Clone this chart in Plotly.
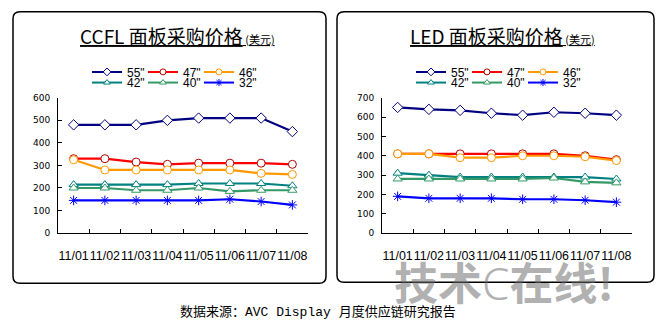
import plotly.graph_objects as go

W, H = 668, 327

# ---- data -------------------------------------------------------------
months = ["11/01", "11/02", "11/03", "11/04", "11/05", "11/06", "11/07", "11/08"]
sizes = ['55"', '47"', '46"', '42"', '40"', '32"']

ccfl_55 = [480, 480, 480, 500, 510, 510, 510, 450]
ccfl_47 = [330, 330, 315, 305, 310, 310, 310, 305]
ccfl_46 = [325, 280, 280, 280, 280, 280, 265, 260]
ccfl_42 = [215, 215, 215, 215, 220, 220, 220, 210]
ccfl_40 = [200, 200, 190, 190, 200, 185, 190, 190]
ccfl_32 = [145, 145, 145, 145, 145, 150, 140, 125]

led_55 = [650, 640, 635, 620, 610, 625, 620, 610]
led_47 = [410, 410, 410, 410, 410, 410, 400, 380]
led_46 = [410, 410, 390, 390, 400, 400, 395, 375]
led_42 = [310, 300, 290, 290, 290, 290, 290, 280]
led_40 = [280, 280, 280, 280, 280, 285, 265, 260]
led_32 = [190, 180, 180, 180, 175, 175, 170, 160]

ccfl_series = [ccfl_55, ccfl_47, ccfl_46, ccfl_42, ccfl_40, ccfl_32]
led_series = [led_55, led_47, led_46, led_42, led_40, led_32]

# ---- styles -----------------------------------------------------------
line_colors = ["#000080", "#FF0000", "#FF9900", "#008080", "#339966", "#0000FF"]
edge_colors = ["#000080", "#B00000", "#FF9900", "#008080", "#339966", "#0000FF"]
symbols = ["diamond", "circle", "circle", "triangle-up", "triangle-up", "asterisk-open"]


def px(x):
    return x / W


def py(y):
    return 1 - y / H


def marker_style(i, size):
    open_sym = symbols[i].endswith("-open")
    return dict(symbol=symbols[i], size=size,
                color=edge_colors[i] if open_sym else "white",
                line=dict(color=edge_colors[i], width=1))


fig = go.Figure()

panels = [
    ("x", "y", ccfl_series, ("legend", "legend2")),
    ("x2", "y2", led_series, ("legend3", "legend4")),
]
for xa, ya, series, legs in panels:
    for i, vals in enumerate(series):
        fig.add_trace(go.Scatter(
            x=months, y=vals, xaxis=xa, yaxis=ya,
            name=sizes[i], showlegend=False,
            mode="lines+markers",
            line=dict(color=line_colors[i], width=2.2),
            marker=marker_style(i, 8),
            hoverinfo="x+y+name",
        ))
    # legend keys (smaller symbols than the plotted markers), three per row
    for i in range(len(series)):
        fig.add_trace(go.Scatter(
            x=[None], y=[None], xaxis=xa, yaxis=ya,
            name=sizes[i], legend=legs[0] if i < 3 else legs[1],
            legendwidth=24 if i % 3 == 2 else 11,
            mode="lines+markers",
            line=dict(color=line_colors[i], width=2),
            marker=marker_style(i, 6),
            hoverinfo="skip",
        ))

axis_font = dict(family="DejaVu Sans", size=9, color="black")
cat_font = dict(family="Liberation Sans, Arial", size=12.4, color="black")

y_dom = [py(235.3), py(95.7)]

common_x = dict(type="category", range=[-0.5, 7.5], showline=True, linecolor="black",
                linewidth=1, ticks="inside", ticklen=4, tickcolor="black",
                tickson="boundaries", tickangle=0, tickfont=cat_font,
                showgrid=False, zeroline=False, ticklabelstandoff=11)
common_y = dict(showline=True, linecolor="black", linewidth=1, ticks="inside",
                ticklen=4, tickcolor="black", dtick=100, tickfont=axis_font,
                showgrid=False, zeroline=False, ticklabelstandoff=5)

fig.update_layout(
    width=W, height=H,
    margin=dict(l=0, r=0, t=0, b=0),
    paper_bgcolor="white", plot_bgcolor="white",
    showlegend=True,
    xaxis=dict(domain=[px(58), px(308)], anchor="y", **common_x),
    yaxis=dict(domain=y_dom, anchor="x", range=[0, 600], **common_y),
    xaxis2=dict(domain=[px(382), px(632)], anchor="y2", **common_x),
    yaxis2=dict(domain=y_dom, anchor="x2", range=[0, 700], **common_y),
)

leg_common = dict(orientation="h", xanchor="left", yanchor="middle",
                  bgcolor="rgba(0,0,0,0)", borderwidth=0,
                  font=dict(family="Liberation Sans, Arial", size=12, color="black"))
fig.update_layout(
    legend=dict(x=px(87), y=py(69), **leg_common),
    legend2=dict(x=px(87), y=py(80), **leg_common),
    legend3=dict(x=px(411), y=py(69), **leg_common),
    legend4=dict(x=px(411), y=py(80), **leg_common),
)


# rounded panel frames
def rounded_box(x0, y0, x1, y1, r):
    pts = [
        f"M {px(x0 + r)},{py(y0)}",
        f"L {px(x1 - r)},{py(y0)}",
        f"Q {px(x1)},{py(y0)} {px(x1)},{py(y0 + r)}",
        f"L {px(x1)},{py(y1 - r)}",
        f"Q {px(x1)},{py(y1)} {px(x1 - r)},{py(y1)}",
        f"L {px(x0 + r)},{py(y1)}",
        f"Q {px(x0)},{py(y1)} {px(x0)},{py(y1 - r)}",
        f"L {px(x0)},{py(y0 + r)}",
        f"Q {px(x0)},{py(y0)} {px(x0 + r)},{py(y0)} Z",
    ]
    return dict(type="path", path=" ".join(pts), xref="paper", yref="paper",
                line=dict(color="black", width=1.5), layer="below")


fig.add_shape(rounded_box(13, 7, 326, 287, 7))
fig.add_shape(rounded_box(337, 7, 654, 286, 7))

title_font = dict(family="Noto Sans CJK SC", size=19, color="black")
for label, cx in [("CCFL 面板采购价格", 177.5), ("LED 面板采购价格", 502)]:
    fig.add_annotation(
        text=f"<u>{label}<span style='font-size:11px'> (美元)</span></u>",
        x=px(cx), y=py(31), xref="paper", yref="paper",
        xanchor="center", yanchor="middle", showarrow=False, font=title_font)

# watermark
fig.add_annotation(
    text="<b>技术</b><span style='font-family:Noto Sans;font-weight:300'>C</span><b>在线!</b>",
    x=px(392), y=py(285), xref="paper", yref="paper",
    xanchor="left", yanchor="middle", showarrow=False,
    font=dict(family="Noto Sans CJK SC", size=44, color="rgba(110,110,110,0.55)"))

# source line
fig.add_annotation(
    text="数据来源：<span style='font-family:Liberation Mono'>AVC Display </span>月度供应链研究报告",
    x=px(317.5), y=py(315), xref="paper", yref="paper",
    xanchor="center", yanchor="middle", showarrow=False,
    font=dict(family="Noto Sans CJK SC", size=13, color="black"))

fig.write_html("out.html")
